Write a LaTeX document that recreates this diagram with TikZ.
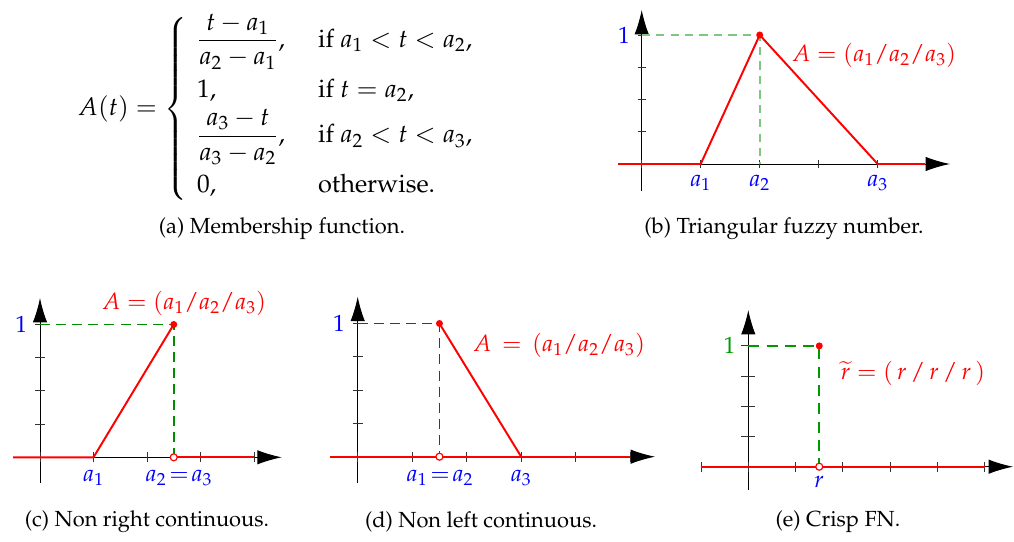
\documentclass[tikz,border=0pt]{standalone}
\usepackage[T1]{fontenc}
\usepackage{mathpazo}
\usepackage{amsmath}
\usetikzlibrary{calc, arrows.meta}

\begin{document}
\begin{tikzpicture}[>={Latex[length=4.4mm,width=2.6mm]}, x=0.018cm, y=0.018cm,
    axis/.style={black, line width=0.5pt, ->},
    tickmark/.style={black!80, line width=0.5pt},
    fuzzy/.style={red, line width=1pt},
    guide/.style={green!55!black, line width=0.8pt, dash pattern=on 1.8mm off 1.1mm},
    lbl/.style={blue, font=\large},
    subcap/.style={font=\fontsize{11.2}{13.6}\selectfont}]
    \useasboundingbox (0,0) rectangle (1014,541);

    % (a) membership function
    \node[font=\fontsize{13}{15.6}\selectfont] (formula) at (281,432) {%
        \renewcommand{\arraystretch}{1.3}%
        $\displaystyle A(t)=\left\{\begin{array}{@{\hspace{5pt}}l@{\hspace{17pt}}l}
        \dfrac{t-a_1}{a_2-a_1}, & \text{if } a_1<t<a_2,\\
        1, & \text{if } t=a_2,\\
        \dfrac{a_3-t}{a_3-a_2}, & \text{if } a_2<t<a_3,\\
        0, & \text{otherwise.}
    \end{array}\right.$};
    \node[subcap] (capA) at (282,312) {(a) Membership function.};

    % (b) triangular fuzzy number
    \def\ox{641.7} \def\oy{377} \def\ux{59} \def\uy{32.25}
    \coordinate (Ob) at (\ox,\oy);
    \coordinate (B1) at (\ox+\ux,\oy);
    \coordinate (B2) at (\ox+2*\ux,\oy);
    \coordinate (B3) at (\ox+4*\ux,\oy);
    \coordinate (Btop) at (\ox+2*\ux,\oy+4*\uy);
    \coordinate (Bone) at (\ox,\oy+4*\uy);
    \draw[axis] (\ox,350) -- (\ox,531);
    \draw[axis] (618,\oy) -- (950,\oy);
    \foreach \i in {0,...,4}
        \draw[tickmark] (\ox+\i*\ux,\oy-4) -- (\ox+\i*\ux,\oy+4);
    \foreach \j in {1,...,4}
        \draw[tickmark] (\ox-4,\oy+\j*\uy) -- (\ox+4,\oy+\j*\uy);
    \draw[guide, green!55!black!50, line width=1.1pt, dash pattern=on 1.5mm off 1.1mm]
        (Bone) -- (Btop) -- (B2);
    \draw[fuzzy] (618,\oy) -- (B1) -- (Btop) -- (B3) -- (925,\oy);
    \fill[red] (Btop) circle (3.5);
    \node[lbl, anchor=east] (oneB) at ($(Bone)+(-5,0)$) {1};
    \node[lbl] (a1B) at (\ox+\ux,358) {$a_1$};
    \node[lbl] (a2B) at (\ox+2*\ux,358) {$a_2$};
    \node[lbl] (a3B) at (\ox+4*\ux,358) {$a_3$};
    \node[red] (tagB) at (874,486) {\large$A=(a_1/a_2/a_3)$};
    \node[subcap] (capB) at (784,312) {(b) Triangular fuzzy number.};

    % (c) non right continuous
    \def\ox{40} \def\oy{83.7} \def\ux{53.5} \def\uy{33.2}
    \coordinate (C1) at (\ox+\ux,\oy);
    \coordinate (C2) at (\ox+2.5*\ux,\oy);
    \coordinate (Ctop) at (\ox+2.5*\ux,\oy+4*\uy);
    \coordinate (Cone) at (\ox,\oy+4*\uy);
    \draw[axis] (\ox,58) -- (\ox,243);
    \draw[axis] (13,\oy) -- (281.7,\oy);
    \foreach \i in {0,...,4}
        \draw[tickmark] (\ox+\i*\ux,\oy-5) -- (\ox+\i*\ux,\oy+5);
    \foreach \j in {1,...,4}
        \draw[tickmark] (\ox-5,\oy+\j*\uy) -- (\ox+5,\oy+\j*\uy);
    \draw[guide] (Cone) -- (Ctop) -- (C2);
    \draw[fuzzy] (13,\oy) -- (C1) -- (Ctop);
    \draw[fuzzy] (C2) -- (\ox+4*\ux,\oy);
    \fill[red] (Ctop) circle (3.5);
    \draw[red, fill=white, line width=0.6pt] (C2) circle (3.5);
    \node[lbl, anchor=east] (oneC) at ($(Cone)+(-6,0)$) {1};
    \node[lbl] (a1C) at (\ox+\ux,63) {$a_1$};
    \node[lbl] (a23C) at (179,63) {$a_2\!=\!a_3$};
    \node[red] (tagC) at (184,238) {\large$A=(a_1/a_2/a_3)$};
    \node[subcap] (capC) at (147,19) {(c) Non right continuous.};

    % (d) non left continuous
    \def\ox{357.7} \def\oy{84.3} \def\ux{54.5} \def\uy{33.3}
    \coordinate (D12) at (\ox+1.5*\ux,\oy);
    \coordinate (D3) at (\ox+3*\ux,\oy);
    \coordinate (Dtop) at (\ox+1.5*\ux,\oy+4*\uy);
    \coordinate (Done) at (\ox,\oy+4*\uy);
    \draw[axis] (\ox,58) -- (\ox,244.3);
    \draw[axis] (330,\oy) -- (655,\oy);
    \foreach \i in {0,...,5}
        \draw[tickmark] (\ox+\i*\ux,\oy-5) -- (\ox+\i*\ux,\oy+5);
    \foreach \j in {1,...,4}
        \draw[tickmark] (\ox-5,\oy+\j*\uy) -- (\ox+5,\oy+\j*\uy);
    \draw[guide, green!40!black] (Done) -- (Dtop) -- (D12);
    \draw[fuzzy] (330,\oy) -- (\ox+5*\ux,\oy);
    \draw[fuzzy] (Dtop) -- (D3);
    \fill[red] (Dtop) circle (3.5);
    \draw[red, fill=white, line width=0.6pt] (D12) circle (3.5);
    \node[lbl, anchor=east] (oneD) at ($(Done)+(-6,0)$) {1};
    \node[lbl] (a12D) at (440,63) {$a_1\!=\!a_2$};
    \node[lbl] (a3D) at (\ox+3*\ux,63) {$a_3$};
    \node[red] (tagD) at (559,196) {\large$A\,=\,(a_1/a_2/a_3)$};
    \node[subcap] (capD) at (481,19) {(d) Non left continuous.};

    % (e) crisp fuzzy number
    \def\ox{748.3} \def\oy{74.3} \def\ux{47.3} \def\uy{30.2}
    \coordinate (Er) at (\ox+1.5*\ux,\oy);
    \coordinate (Etop) at (\ox+1.5*\ux,\oy+4*\uy);
    \coordinate (Eone) at (\ox,\oy+4*\uy);
    \draw[axis] (\ox,51) -- (\ox,231);
    \draw[axis] (700.7,\oy) -- (1013,\oy);
    \foreach \i in {-1,...,5}
        \draw[tickmark] (\ox+\i*\ux,\oy-5) -- (\ox+\i*\ux,\oy+5);
    \foreach \j in {1,...,4}
        \draw[tickmark] (\ox-7,\oy+\j*\uy) -- (\ox+7,\oy+\j*\uy);
    \draw[guide, green!60!black, dash pattern=on 2mm off 1.3mm]
        (Eone) -- (Etop) -- (Er);
    \draw[fuzzy] (700.7,\oy) -- (\ox+5*\ux,\oy);
    \fill[red] (Etop) circle (3.5);
    \draw[red, fill=white, line width=0.6pt] (Er) circle (3.5);
    \node[green!60!black, font=\large, anchor=east] (oneE) at ($(Eone)+(-6,0)$) {1};
    \node[lbl] (rE) at (\ox+1.5*\ux,59) {$r$};
    \node[red] (tagE) at (913,168) {\large$\widetilde{r}=(\,r\,/\,r\,/\,r\,)$};
    \node[subcap] (capE) at (838,19) {(e) Crisp FN.};
\end{tikzpicture}
\end{document}
